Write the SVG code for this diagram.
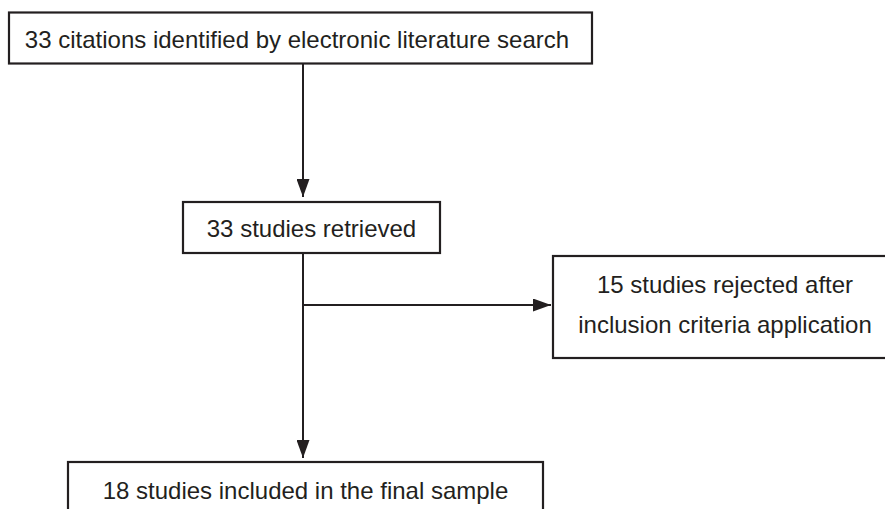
<svg xmlns="http://www.w3.org/2000/svg" width="885" height="509" viewBox="0 0 885 509">
<defs>
<style>
.box{fill:#fff;stroke:#231f20;stroke-width:2.2}
.t{font-family:"Liberation Sans",Arial,sans-serif;font-size:24px;fill:#231f20;text-anchor:middle}
.c{stroke:#231f20;stroke-width:2;fill:none}
</style>
<marker id="ahv" viewBox="0 0 18 13" refX="18" refY="6.5" markerWidth="18" markerHeight="13" markerUnits="userSpaceOnUse" orient="auto">
<path d="M0,0 L18,6.5 L0,13 Z" fill="#231f20"/>
</marker>
</defs>
<g id="connectors">
<line class="c" x1="303" y1="63" x2="303" y2="197" marker-end="url(#ahv)"/>
<line class="c" x1="303" y1="253" x2="303" y2="458" marker-end="url(#ahv)"/>
<line class="c" x1="303" y1="305" x2="551" y2="305" marker-end="url(#ahv)"/>
</g>
<g id="n1">
<rect class="box" x="9" y="12.5" width="583" height="51"/>
<text class="t" x="297" y="48">33 citations identified by electronic literature search</text>
</g>
<g id="n2">
<rect class="box" x="183" y="202" width="257" height="51"/>
<text class="t" x="311.5" y="237">33 studies retrieved</text>
</g>
<g id="n3">
<rect class="box" x="553" y="256" width="344" height="102"/>
<text class="t" x="725" y="293">15 studies rejected after</text>
<text class="t" x="725" y="333">inclusion criteria application</text>
</g>
<g id="n4">
<rect class="box" x="68" y="462" width="475" height="60"/>
<text class="t" x="305.5" y="499">18 studies included in the final sample</text>
</g>
</svg>
